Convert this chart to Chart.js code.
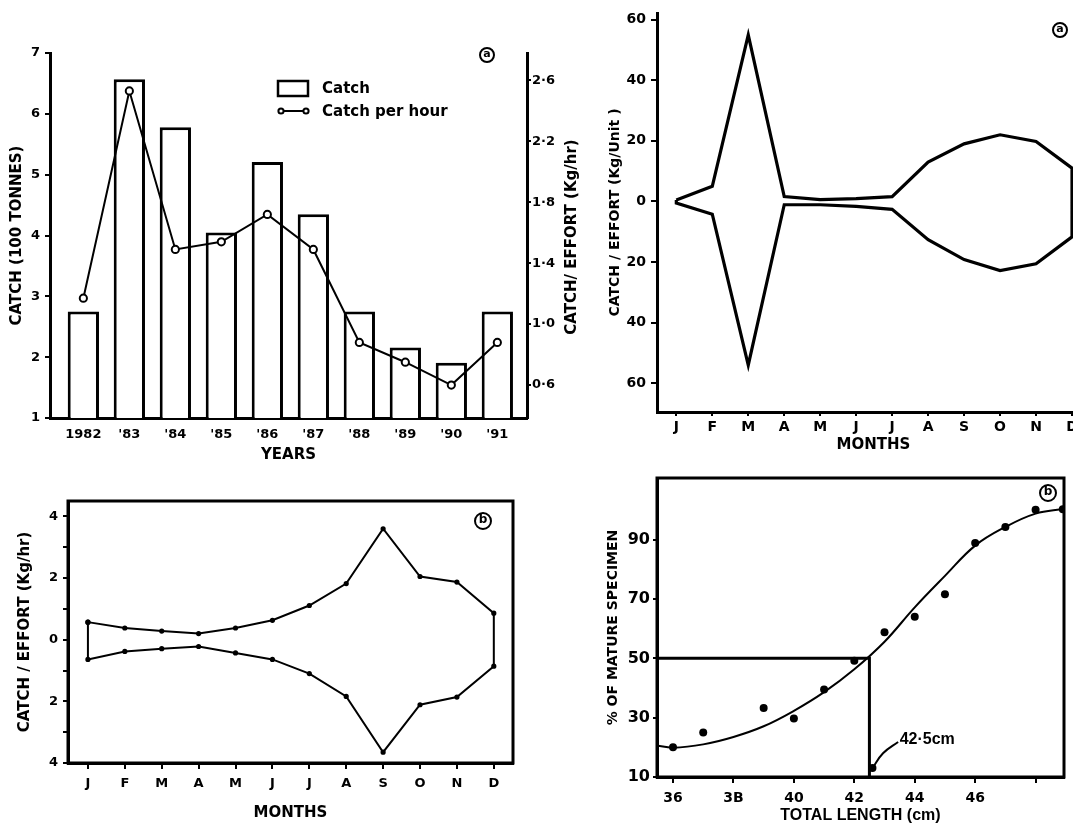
<!DOCTYPE html>
<html><head><meta charset="utf-8">
<script src="https://cdn.jsdelivr.net/npm/chart.js@4.4.1/dist/chart.umd.min.js"></script>
<style>
html,body{margin:0;padding:0;background:#fff;overflow:hidden;}
#page{position:relative;width:1073px;height:824px;overflow:hidden;background:#fff;}
.panel{position:absolute;}
canvas{display:block;}
</style></head><body>
<div id="page">
  <div class="panel" style="left:0;top:0;"><canvas id="c1" width="600" height="480"></canvas></div>
  <div class="panel" style="left:590px;top:0;"><canvas id="c2" width="520" height="460"></canvas></div>
  <div class="panel" style="left:0;top:480px;"><canvas id="c3" width="560" height="344"></canvas></div>
  <div class="panel" style="left:580px;top:470px;"><canvas id="c4" width="493" height="360"></canvas></div>
</div>
<script>
// ---------- DATA ----------
// (a) annual catch and catch per hour
const years = [1982, 1983, 1984, 1985, 1986, 1987, 1988, 1989, 1990, 1991];
const yearLabels = ['1982', "'83", "'84", "'85", "'86", "'87", "'88", "'89", "'90", "'91"];
const catchValues = [2.75, 6.57, 5.78, 4.05, 5.21, 4.35, 2.75, 2.16, 1.91, 2.75];
const catchPerHour = [1.17, 2.53, 1.49, 1.54, 1.72, 1.49, 0.88, 0.75, 0.60, 0.88];
const catchTicks = [1, 2, 3, 4, 5, 6, 7];
const cpueTicks = [0.6, 1.0, 1.4, 1.8, 2.2, 2.6];

// (a) monthly catch/effort (Kg/Unit)
const monthLabels = ['J', 'F', 'M', 'A', 'M', 'J', 'J', 'A', 'S', 'O', 'N', 'D'];
const monthIndex = [0, 1, 2, 3, 4, 5, 6, 7, 8, 9, 10, 11];
const unitUpper = [0.5, 5, 55, 1.6, 0.6, 0.9, 1.6, 13, 19, 22, 19.8, 11];
const unitLower = [-0.5, -4.2, -54, -1.1, -1.1, -1.6, -2.6, -12.6, -19.2, -22.8, -20.6, -11.7];
const unitTicks = [-60, -40, -20, 0, 20, 40, 60];

// (b) monthly catch/effort (Kg/hr)
const hrUpper = [0.57, 0.38, 0.28, 0.20, 0.38, 0.63, 1.11, 1.82, 3.60, 2.05, 1.87, 0.86];
const hrLower = [-0.64, -0.38, -0.29, -0.22, -0.43, -0.64, -1.10, -1.84, -3.65, -2.11, -1.86, -0.86];
const hrTicks = [-4, -3, -2, -1, 0, 1, 2, 3, 4];

// (b) maturity vs total length
const lengthObs = [36, 37, 39, 40, 41, 42, 43, 44, 45, 46, 47, 48, 48.9];
const matureObs = [20, 25, 33.3, 29.7, 39.5, 49.2, 58.8, 64, 71.6, 88.9, 94.3, 100.1, 100.3];
const curveLength = [35.47, 36, 37, 38, 39, 40, 41, 42, 43, 44, 45, 46, 47, 48, 48.94];
const curveMature = [20.6, 19.9, 21, 23.5, 27.1, 32.3, 38.6, 46.3, 55.6, 67.2, 77.8, 88, 94.3, 98.8, 100.4];
const thresholdLength = [35.47, 42.5, 42.5];
const thresholdMature = [50, 50, 10];
const pointerLength = [42.6, 42.95, 43.45];
const pointerMature = [13, 18, 21.8];
const pointerLabel = '42·5cm';
const lengthTicks = [36, 38, 40, 42, 44, 46, 48];
const lengthTickLabels = ['36', '3B', '40', '42', '44', '46', ''];
const matureTicks = [10, 30, 50, 70, 90];

// ---------- HELPERS ----------
const FONT = "'DejaVu Sans', sans-serif";
const ARIAL = "'Liberation Sans', Arial, sans-serif";
const BLACK = '#000';
const pairs = (xs, ys) => xs.map((x, i) => ({x: x, y: ys[i]}));
function envelope(upper, lower) {
  const up = pairs(monthIndex, upper);
  const lo = pairs(monthIndex, lower).reverse();
  return up.concat(lo, [up[0]]);
}
const fixedTicks = values => scale => { scale.ticks = values.map(v => ({value: v})); };
const fixW = w => s => { s.width = w; s.paddingTop = 0; s.paddingBottom = 0; s.paddingLeft = 0; s.paddingRight = 0; };
const fixH = h => s => { s.height = h; s.paddingTop = 0; s.paddingBottom = 0; s.paddingLeft = 0; s.paddingRight = 0; };
const f = (size, fam, weight) => ({family: fam || FONT, size: size, weight: weight || 'bold'});
const tickGrid = (len) => ({display: true, drawOnChartArea: false, drawTicks: true, tickLength: len, color: BLACK, lineWidth: 2});
const noGrid = {display: false, drawTicks: false};

const panelText = {
  id: 'panelText',
  afterDraw(chart, args, opts) {
    const ctx = chart.ctx;
    (opts.items || []).forEach(it => {
      ctx.save();
      let x = it.x, y = it.y;
      if (it.data) {
        x = chart.scales.x.getPixelForValue(it.x);
        y = chart.scales.y.getPixelForValue(it.y);
      }
      ctx.translate(x, y);
      if (it.rotate) ctx.rotate(it.rotate);
      ctx.fillStyle = BLACK; ctx.strokeStyle = BLACK;
      if (it.circle) {
        ctx.beginPath(); ctx.arc(0, 0, it.circle, 0, Math.PI * 2); ctx.lineWidth = 2; ctx.stroke();
      }
      ctx.font = it.font; ctx.textAlign = it.align || 'center'; ctx.textBaseline = 'middle';
      ctx.fillText(it.text, 0, it.dy || 0);
      ctx.restore();
    });
  }
};

const panelLegend = {
  id: 'panelLegend',
  afterDraw(chart, args, o) {
    if (!o || o.x === undefined) return;
    const ctx = chart.ctx;
    const barDs = chart.data.datasets.find(d => d.type === 'bar');
    const lineDs = chart.data.datasets.find(d => d.type === 'line');
    ctx.save();
    ctx.strokeStyle = BLACK; ctx.lineWidth = 2.5;
    ctx.strokeRect(o.x, o.y, 30, 15);
    ctx.font = o.font; ctx.fillStyle = BLACK; ctx.textAlign = 'left'; ctx.textBaseline = 'middle';
    ctx.fillText(barDs.label, o.x + 44, o.y + 8);
    const ly = o.y + 30;
    ctx.lineWidth = 2;
    ctx.beginPath(); ctx.moveTo(o.x + 3, ly); ctx.lineTo(o.x + 28, ly); ctx.stroke();
    [o.x + 3, o.x + 28].forEach(cx => {
      ctx.beginPath(); ctx.arc(cx, ly, 2.6, 0, Math.PI * 2);
      ctx.fillStyle = '#fff'; ctx.fill(); ctx.stroke();
    });
    ctx.fillStyle = BLACK;
    ctx.fillText(lineDs.label, o.x + 44, ly + 1);
    ctx.restore();
  }
};

const frame = {
  id: 'frame',
  afterDatasetsDraw(chart, args, o) {
    if (!o || !o.width) return;
    const a = chart.chartArea, ctx = chart.ctx;
    ctx.save(); ctx.strokeStyle = BLACK; ctx.lineWidth = o.width;
    ctx.strokeRect(a.left, a.top, a.right - a.left, a.bottom - a.top);
    ctx.restore();
  }
};

Chart.defaults.animation = false;
Chart.defaults.color = BLACK;

// ---------- PANEL 1: (a) catch by year ----------
new Chart(document.getElementById('c1'), {
  type: 'bar',
  data: {
    datasets: [
      {type: 'line', label: 'Catch per hour', data: pairs(years, catchPerHour), yAxisID: 'y2',
       borderColor: BLACK, borderWidth: 2, tension: 0, pointRadius: 3.6, pointBackgroundColor: '#fff',
       pointBorderColor: BLACK, pointBorderWidth: 2, order: 0},
      {type: 'bar', label: 'Catch', data: pairs(years, catchValues), yAxisID: 'y',
       backgroundColor: '#fff', borderColor: BLACK, borderWidth: 3, barPercentage: 0.68, categoryPercentage: 1, order: 1}
    ]
  },
  options: {
    responsive: false, animation: false,
    layout: {padding: {left: 0, top: 53, right: 0, bottom: 16}},
    plugins: {
      legend: {display: false}, tooltip: {enabled: false},
      panelLegend: {x: 278, y: 81, font: 'bold 15px ' + FONT},
      panelText: {items: [
        {text: 'CATCH/ EFFORT (Kg/hr)', x: 572, y: 237, rotate: -Math.PI / 2, font: 'bold 15px ' + FONT},
        {text: 'a', x: 487, y: 55, circle: 7, dy: -1, font: 'bold 11px ' + FONT}
      ]}
    },
    scales: {
      x: {type: 'linear', offset: false, min: 1981.275, max: 1991.645,
          afterBuildTicks: fixedTicks(years), afterFit: fixH(46),
          grid: noGrid, border: {color: BLACK, width: 3},
          ticks: {color: BLACK, font: f(13), padding: 9, maxRotation: 0, autoSkip: false,
                  callback: v => { const i = years.indexOf(v); return i < 0 ? '' : yearLabels[i]; }},
          title: {display: true, text: 'YEARS', color: BLACK, font: f(15), padding: {top: 0, bottom: 0}}},
      y: {position: 'left', min: 1, max: 7, afterBuildTicks: fixedTicks(catchTicks), afterFit: fixW(50),
          grid: tickGrid(5), border: {color: BLACK, width: 3},
          ticks: {color: BLACK, font: f(13), padding: 5, callback: v => String(v)},
          title: {display: true, text: 'CATCH (100 TONNES)', color: BLACK, font: f(15), padding: {top: 8, bottom: 0}}},
      y2: {position: 'right', min: 0.384, max: 2.779, afterBuildTicks: fixedTicks(cpueTicks), afterFit: fixW(73),
           grid: tickGrid(4), border: {color: BLACK, width: 3},
           ticks: {color: BLACK, font: f(13), padding: 1, callback: v => v.toFixed(1).replace('.', '·')}}
    }
  },
  plugins: [panelLegend, panelText]
});

// ---------- PANEL 2: (a) monthly catch/effort Kg/Unit ----------
new Chart(document.getElementById('c2'), {
  type: 'line',
  data: {datasets: [{label: 'Catch/Effort (Kg/Unit)', data: envelope(unitUpper, unitLower),
    borderColor: BLACK, borderWidth: 3.2, tension: 0, pointRadius: 0, fill: false, borderJoinStyle: 'miter'}]},
  options: {
    responsive: false, animation: false,
    layout: {padding: {left: 0, top: 13, right: 20, bottom: 6}},
    plugins: {legend: {display: false}, tooltip: {enabled: false},
      panelText: {items: [{text: 'a', x: 470, y: 30, circle: 7, dy: -1, font: 'bold 11px ' + FONT}]}},
    scales: {
      x: {type: 'linear', min: -0.537, max: 11.5, afterBuildTicks: fixedTicks(monthIndex), afterFit: fixH(42),
          grid: tickGrid(4), border: {color: BLACK, width: 3},
          ticks: {color: BLACK, font: f(14), padding: 3, maxRotation: 0, autoSkip: false, callback: v => monthLabels[v] || ''},
          title: {display: true, text: 'MONTHS', color: BLACK, font: f(15), padding: {top: 0, bottom: 0}}},
      y: {min: -69.5, max: 62.2, afterBuildTicks: fixedTicks(unitTicks), afterFit: fixW(67),
          grid: tickGrid(6), border: {color: BLACK, width: 3},
          ticks: {color: BLACK, font: f(14), padding: 5, callback: v => String(Math.abs(v))},
          title: {display: true, text: 'CATCH / EFFORT (Kg/Unit )', color: BLACK, font: f(14), padding: {top: 16.6, bottom: 0}}}
    }
  },
  plugins: [panelText]
});

// ---------- PANEL 3: (b) monthly catch/effort Kg/hr ----------
new Chart(document.getElementById('c3'), {
  type: 'line',
  data: {datasets: [{label: 'Catch/Effort (Kg/hr)', data: envelope(hrUpper, hrLower),
    borderColor: BLACK, borderWidth: 2, tension: 0, pointRadius: 1.6, pointBackgroundColor: BLACK,
    pointBorderColor: BLACK, fill: false}]},
  options: {
    responsive: false, animation: false,
    layout: {padding: {left: 0, top: 21, right: 47, bottom: 1}},
    plugins: {legend: {display: false}, tooltip: {enabled: false}, frame: {width: 3},
      panelText: {items: [{text: 'b', x: 483, y: 41, circle: 8, dy: -1, font: 'bold 12px ' + FONT}]}},
    scales: {
      x: {type: 'linear', min: -0.54, max: 11.52, afterBuildTicks: fixedTicks(monthIndex), afterFit: fixH(60),
          grid: tickGrid(6), border: {color: BLACK, width: 3},
          ticks: {color: BLACK, font: f(13), padding: 6.5, maxRotation: 0, autoSkip: false, callback: v => monthLabels[v] || ''},
          title: {display: true, text: 'MONTHS', color: BLACK, font: f(15), padding: {top: 0, bottom: 1}}},
      y: {min: -4, max: 4.5, afterBuildTicks: fixedTicks(hrTicks), afterFit: fixW(68),
          grid: tickGrid(5), border: {color: BLACK, width: 3},
          ticks: {color: BLACK, font: f(13), padding: 5, callback: v => (v % 2 === 0 ? String(Math.abs(v)) : '')},
          title: {display: true, text: 'CATCH / EFFORT (Kg/hr)', color: BLACK, font: f(15), padding: {top: 16, bottom: 0}}}
    }
  },
  plugins: [frame, panelText]
});

// ---------- PANEL 4: (b) maturity ogive ----------
new Chart(document.getElementById('c4'), {
  type: 'scatter',
  data: {datasets: [
    {label: 'Fitted curve', data: pairs(curveLength, curveMature), showLine: true, borderColor: BLACK,
     borderWidth: 2, pointRadius: 0, tension: 0.4},
    {label: '50% maturity', data: pairs(thresholdLength, thresholdMature), showLine: true, borderColor: BLACK,
     borderWidth: 3, pointRadius: 0, tension: 0},
    {label: pointerLabel, data: pairs(pointerLength, pointerMature), showLine: true, borderColor: BLACK,
     borderWidth: 2, tension: 0.4, pointRadius: c => (c.dataIndex === 0 ? 4 : 0), pointBackgroundColor: BLACK, pointBorderWidth: 0},
    {label: '% mature', data: pairs(lengthObs, matureObs), showLine: false, pointRadius: 4,
     pointBackgroundColor: BLACK, pointBorderColor: BLACK, pointBorderWidth: 0}
  ]},
  options: {
    responsive: false, animation: false,
    layout: {padding: {left: 0, top: 8, right: 9, bottom: 5}},
    plugins: {legend: {display: false}, tooltip: {enabled: false}, frame: {width: 3},
      panelText: {items: [
        {text: 'b', x: 468, y: 23, circle: 8, dy: -1, font: 'bold 12px ' + FONT},
        {text: pointerLabel, data: true, x: 43.5, y: 22.6, align: 'left', font: 'bold 16px ' + ARIAL}
      ]}},
    scales: {
      x: {type: 'linear', min: 35.47, max: 48.94, afterBuildTicks: fixedTicks(lengthTicks), afterFit: fixH(48),
          grid: tickGrid(6), border: {color: BLACK, width: 3},
          ticks: {color: BLACK, font: f(14), padding: 7, maxRotation: 0, autoSkip: false,
                  callback: v => { const i = lengthTicks.indexOf(v); return i < 0 ? '' : lengthTickLabels[i]; }},
          title: {display: true, text: 'TOTAL LENGTH (cm)', color: BLACK, font: f(16, ARIAL), padding: {top: 0, bottom: 0}}},
      y: {min: 10, max: 110.8, afterBuildTicks: fixedTicks(matureTicks), afterFit: fixW(77),
          grid: tickGrid(4), border: {color: BLACK, width: 3},
          ticks: {color: BLACK, font: f(16), padding: 3, callback: v => String(v)},
          title: {display: true, text: '% OF MATURE SPECIMEN', color: BLACK, font: f(14), padding: {top: 25, bottom: 0}}}
    }
  },
  plugins: [frame, panelText]
});
</script>
</body></html>
